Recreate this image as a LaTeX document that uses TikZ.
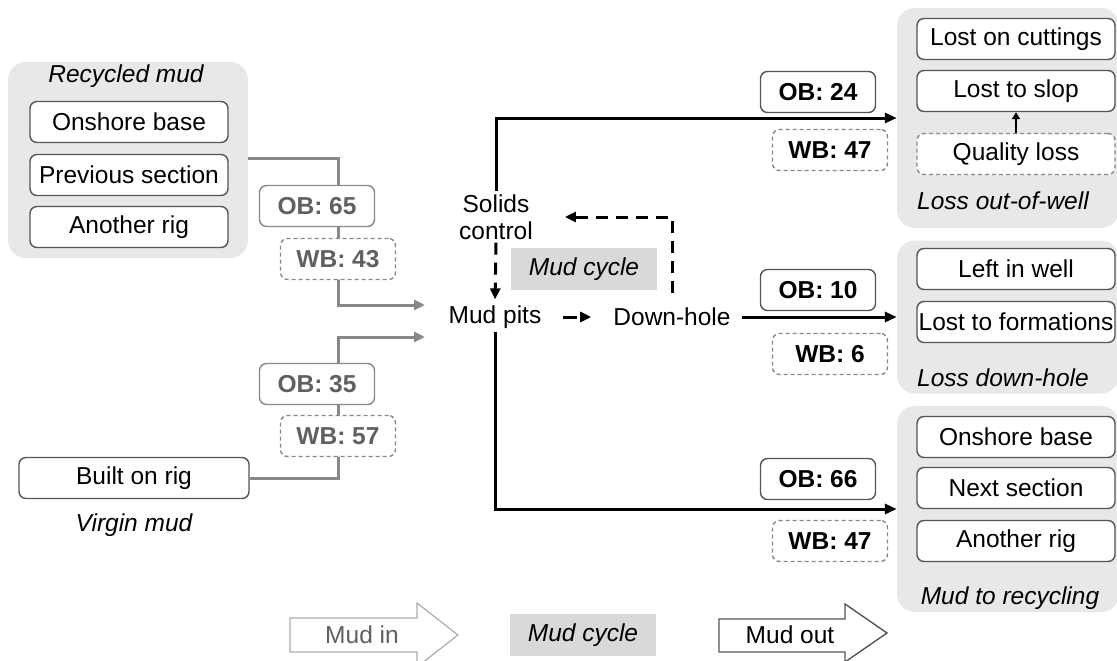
\documentclass[tikz,border=0pt]{standalone}
\usepackage{fontspec}
\setmainfont{Liberation Sans}
\usetikzlibrary{arrows.meta}
\pgfdeclarelayer{back}
\pgfdeclarelayer{mid}
\pgfsetlayers{back,mid,main}
\definecolor{grpfill}{HTML}{E8E8E8}
\definecolor{bordc}{HTML}{555555}
\definecolor{inline}{HTML}{888888}
\definecolor{intext}{HTML}{606060}
\definecolor{cyclefill}{HTML}{D9D9D9}
\newcommand{\fs}{\fontsize{24.5}{28}\selectfont}
\tikzset{
  x=1pt, y=-1pt,
  txt/.style={font=\fs, inner sep=3pt},
  grp/.style={fill=grpfill, rounded corners=18pt, inner sep=0pt},
  item/.style={txt, draw=bordc, line width=1.4pt, rounded corners=7pt, fill=white,
    minimum width=198pt, minimum height=41pt},
  qty/.style={txt, font=\fs\bfseries, draw=bordc, line width=1.4pt,
    rounded corners=7pt, fill=white, minimum width=115pt, minimum height=41pt},
  qtyw/.style={qty, dash pattern=on 4pt off 3pt, draw=inline},
  qtyin/.style={text=intext, draw=inline},
  grptitle/.style={txt, font=\fs\itshape},
  gl/.style={draw=inline, line width=3pt, -{Triangle[length=11pt,width=10pt]}},
  bl/.style={draw=black, line width=3pt, -{Triangle[length=12pt,width=10pt]}},
  dsh/.style={draw=black, line width=3pt, dash pattern=on 12pt off 8pt,
    -{Triangle[length=11pt,width=10pt]}},
  cyclebox/.style={grptitle, fill=cyclefill, minimum width=146pt, minimum height=42pt},
}
\begin{document}
\begin{tikzpicture}
\useasboundingbox (0,0) rectangle (1117,661);

% ---- group backgrounds
\begin{pgfonlayer}{back}
  \node[grp, minimum width=240pt, minimum height=196pt] (recyc) at (128,160) {};
  \node[grp, minimum width=222pt, minimum height=220pt] (grp1) at (1008,118) {};
  \node[grp, minimum width=222pt, minimum height=153pt] (grp2) at (1008,317) {};
  \node[grp, minimum width=222pt, minimum height=206pt] (grp3) at (1008,509) {};
\end{pgfonlayer}

% ---- recycled mud sources
\node[grptitle] (recyct) at (126,76) {Recycled mud};
\node[item] (onsh) at (129,122) {Onshore base};
\node[item] (prev) at (129,175) {Previous section};
\node[item] (anot) at (129,227) {Another rig};

% ---- virgin mud source
\node[item, minimum width=230pt] (built) at (134,478) {Built on rig};
\node[grptitle] (virg) at (134,525) {Virgin mud};

% ---- inflow quantities
\node[qty, qtyin] (ob65) at (317,206) {OB: 65};
\node[qtyw, qtyin] (wb43) at (338,259) {WB: 43};
\node[qty, qtyin] (ob35) at (317,384) {OB: 35};
\node[qtyw, qtyin] (wb57) at (338,436) {WB: 57};

% ---- mud cycle
\node[txt, align=center, font=\fontsize{24.5}{27}\selectfont] (solids) at (496,217) {Solids\\control};
\node[txt] (pits) at (495,317) {Mud pits};
\node[txt] (down) at (672,317) {Down-hole};
\node[cyclebox] (cyc) at (584,269) {Mud cycle};
\coordinate (in1) at (425,305);
\coordinate (in2) at (425,337);

% ---- outflow quantities
\node[qty] (ob24) at (818,92) {OB: 24};
\node[qtyw] (wb47a) at (830,150) {WB: 47};
\node[qty] (ob10) at (818,290) {OB: 10};
\node[qtyw] (wb6) at (830,354) {WB: 6};
\node[qty] (ob66) at (818,479) {OB: 66};
\node[qtyw] (wb47b) at (830,541) {WB: 47};

% ---- loss out-of-well
\node[item] (cutt) at (1016,39) {Lost on cuttings};
\node[item] (slop) at (1016,91) {Lost to slop};
\node[item, dash pattern=on 4pt off 3pt, draw=inline] (qual) at (1016,154) {Quality loss};
\node[grptitle] (lossout) at (1003,201) {Loss out-of-well};

% ---- loss down-hole
\node[item] (left) at (1016,269) {Left in well};
\node[item, inner sep=0pt] (form) at (1016,322) {Lost to formations};
\node[grptitle] (lossdown) at (1003,378) {Loss down-hole};

% ---- mud to recycling
\node[item] (onsh2) at (1016,437) {Onshore base};
\node[item] (next) at (1016,488) {Next section};
\node[item] (anot2) at (1016,541) {Another rig};
\node[grptitle] (torec) at (1010,598) {Mud to recycling};

% ---- connectors
\begin{pgfonlayer}{mid}
  \draw[gl] ([yshift=2pt]recyc.east) -| (wb43.center) |- (in1);
  \draw[gl] (built.east) -| (wb57.center) |- (in2);
  \draw[bl] (solids.north) |- (grp1.west);
  \draw[bl] (down.east) ++(8,0) -- (grp2.west);
  \draw[bl] (pits.south) |- (grp3.west);
\end{pgfonlayer}
\draw[bl, line width=2pt, -{Triangle[length=7pt,width=8pt]}] (qual.north) -- (slop.south);
\draw[dsh, shorten >=3pt] (solids.south) -- (pits.north);
\draw[dsh, shorten >=29pt] ([yshift=12pt]down.north) |- (solids.east);
\draw[black, line width=3pt, dash pattern=on 14pt off 4pt, shorten <=18pt, shorten >=19pt,
  -{Triangle[length=11pt,width=10pt]}] (pits.east) -- (down.west);

% ---- legend
\draw[draw=inline!70, line width=1.2pt, fill=white]
  (290,618) -- (417,618) -- (417,603) -- (458,635) -- (417,667) -- (417,652) -- (290,652) -- cycle;
\node[txt, text=intext] (min) at (362,635) {Mud in};
\node[cyclebox] (lcyc) at (583,635) {Mud cycle};
\draw[draw=bordc, line width=1.4pt, fill=white]
  (719,619) -- (845,619) -- (845,604) -- (887,633) -- (845,662) -- (845,652) -- (719,652) -- cycle;
\node[txt] (mout) at (790,635) {Mud out};
\end{tikzpicture}
\end{document}
